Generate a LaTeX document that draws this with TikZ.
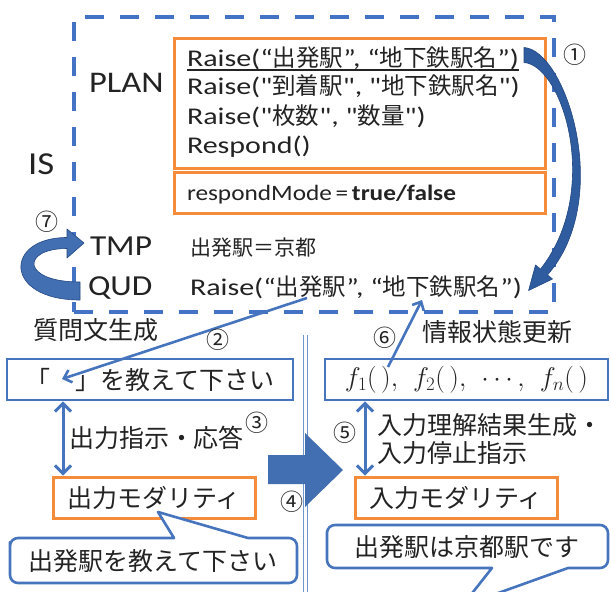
\documentclass[tikz,border=0pt]{standalone}
\usepackage[no-math]{fontspec}
\usepackage{fix-cm}
\setmainfont{Noto Sans CJK JP}
\newfontfamily\latr[FakeStretch=1.25]{Carlito}
\newfontfamily\latl[FakeStretch=1.15]{Carlito}
\usetikzlibrary{arrows.meta,calc}
\definecolor{dashblue}{RGB}{68,114,196}
\definecolor{boxblue}{RGB}{70,117,190}
\definecolor{orng}{RGB}{245,140,60}
\definecolor{ink}{RGB}{35,35,35}
\definecolor{darrow}{RGB}{46,92,158}
\definecolor{darrowedge}{RGB}{36,72,130}
\definecolor{blk}{RGB}{66,111,178}
\definecolor{vline}{RGB}{110,150,205}
\newcommand\fsz[1]{\fontsize{#1pt}{#1pt}\selectfont}
\newcommand\rl[1]{{\latr\fsz{24}#1}}
\begin{document}
\begin{tikzpicture}[x=1pt,y=-1pt,
  txt/.style={inner sep=0pt,outer sep=0pt,text=ink},
  obox/.style={draw=orng,line width=3pt,inner sep=0pt,text=ink},
  bbox/.style={draw=boxblue,line width=2.8pt,inner sep=0pt,text=ink},
  thinarrow/.style={draw=boxblue,line width=2.6pt,-{Straight Barb[length=7pt,width=13pt]}},
  dblarrow/.style={draw=boxblue,line width=3pt,{Straight Barb[length=8pt,width=16pt]}-{Straight Barb[length=8pt,width=16pt]}},
  bubble/.style={draw=boxblue,line width=2.6pt,fill=white,line join=round},
  num/.style={txt,font=\fsz{23}},
  bigcurve/.style={fill=darrow,draw=darrowedge,line width=0.6pt,line join=round},
]
\useasboundingbox (0,0) rectangle (611,592);
\fill[white] (0,0) rectangle (611,592);

% ---------- IS area ----------
\node[draw=dashblue,line width=3.5pt,dash pattern=on 19pt off 16pt,minimum width=480pt,minimum height=295pt,inner sep=0pt] (isbox) at (314,164.5) {};
\node[obox,minimum width=371pt,minimum height=130pt] (planbox) at (359.5,103) {};
\node[obox,minimum width=371pt,minimum height=41pt] (modebox) at (359.5,192.5) {};

\node[txt,font=\latl\fsz{32},anchor=base west] (is) at (28,174) {IS};
\node[txt,font=\latl\fsz{30},anchor=base west] (plan) at (89,92) {PLAN};
\node[txt,font=\latl\fsz{29},anchor=base west] (tmp) at (90,255) {TMP};
\node[txt,font=\latl\fsz{29},anchor=base west] (qud) at (88,295) {QUD};

\node[txt,font=\fsz{23.5},anchor=base west] (r1) at (187,66) {\rl{Raise(“}出発駅\rl{”, “}地下鉄駅名\rl{”)}};
\draw[ink,line width=1.2pt] ($(r1.base west)+(0,4)$) -- ($(r1.base east)+(0,4)$);
\node[txt,font=\fsz{23.5},anchor=base west] (r2) at (187,94.5) {\rl{Raise("}到着駅\rl{", "}地下鉄駅名\rl{")}};
\node[txt,font=\fsz{23.5},anchor=base west] (r3) at (187,124) {\rl{Raise("}枚数\rl{", "}数量\rl{")}};
\node[txt,font=\fsz{23.5},anchor=base west] (r4) at (187,153) {\rl{Respond()}};
\node[txt,font=\latl\fsz{22},anchor=base west] (rm) at (187,200) {respondMode\,=\,\textbf{true/false}};

\node[txt,font=\fsz{21},anchor=base west] (tmpv) at (190,255) {出発駅＝京都};
\node[txt,font=\fsz{23.5},anchor=base west] (qudv) at (190,295) {\rl{Raise(“}出発駅\rl{”, “}地下鉄駅名\rl{”)}};

% ---------- curved arrows ----------
\path[bigcurve] (524,47.5) .. controls (566,50) and (614,199) .. (547.5,274.9)
  -- (552.5,279) -- (528.6,290.5) -- (535.5,265) -- (540.5,269.1)
  .. controls (602,191) and (563,65.5) .. (524,62.5) -- cycle;
\path[bigcurve,fill=blk] (80,300) .. controls (3,300) and (4,237.5) .. (67,237.5)
  -- (67,229) -- (84,243) -- (67,258) -- (67,248.5)
  .. controls (21,248.5) and (21,282) .. (80,282) -- cycle;

% ---------- lower section ----------
\draw[vline,line width=1.2pt] (303.5,335) -- (303.5,592) (307.5,335) -- (307.5,592);

\node[txt,font=\fsz{25}] (qgen) at (96,330) {質問文生成};
\node[txt,font=\fsz{25}] (upd) at (497,332) {情報状態更新};

\node[bbox,minimum width=286pt,minimum height=41pt,font=\fsz{25}] (qbox) at (150,379.5) {「　」を教えて下さい};
\node[bbox,minimum width=283pt,minimum height=41pt,font=\fsz{27}] (fbox) at (466.5,379.5) {$f_1(\,),\ \,f_2(\,),\ \,\cdots,\ \,f_n(\,)$};

\node[obox,minimum width=202pt,minimum height=41pt,font=\fsz{25}] (outmod) at (154,497.5) {出力モダリティ};
\node[obox,minimum width=202pt,minimum height=41pt,font=\fsz{25}] (inmod) at (456,497.5) {入力モダリティ};

\node[txt,font=\fsz{25},anchor=west] (ctl) at (69,438) {出力指示・応答};
\node[txt,font=\fsz{25},anchor=west] (res1) at (377,425) {入力理解結果生成・};
\node[txt,font=\fsz{25},anchor=west] (res2) at (377,453) {入力停止指示};

% block arrow
\path[fill=blk] (268,455) -- (305,455) -- (305,433) -- (343,470) -- (305,507) -- (305,484) -- (268,484) -- cycle;

% bubbles
\path[bubble] (10,550) [rounded corners=8pt] -- (10,538) -- (120,538) [sharp corners] -- (174,538) -- (158,512) -- (248,538) -- (260,538) [rounded corners=8pt] -- (297,538) -- (297,583) -- (10,583) -- cycle;
\node[txt,font=\fsz{25}] (b1) at (153,561) {出発駅を教えて下さい};
\path[bubble] (327,540) [rounded corners=8pt] -- (327,525) -- (608,525) -- (608,568) -- (580,568) [sharp corners] -- (568,568) -- (462,606) -- (492,568) -- (470,568) [rounded corners=8pt] -- (327,568) -- cycle;
\node[txt,font=\fsz{25}] (b2) at (467,547) {出発駅は京都駅です};

% connectors
\coordinate (a2s) at (307,298);
\coordinate (a2e) at (62,379);
\draw[thinarrow] (a2s) -- (a2e);
\coordinate (a6s) at (388,367);
\coordinate (a6e) at (422,300);
\draw[thinarrow] (a6s) -- (a6e);
\draw[dblarrow] (qbox.south -| 63,0) -- (outmod.north -| 63,0);
\draw[dblarrow] (fbox.south -| 365,0) -- (inmod.north -| 365,0);

% numbers
\node[num] (n1) at (575,55) {①};
\node[num] (n2) at (218,340) {②};
\node[num] (n3) at (257,423) {③};
\node[num] (n4) at (292,502) {④};
\node[num] (n5) at (345,433) {⑤};
\node[num] (n6) at (385,338) {⑥};
\node[num] (n7) at (47,222) {⑦};
\end{tikzpicture}
\end{document}
